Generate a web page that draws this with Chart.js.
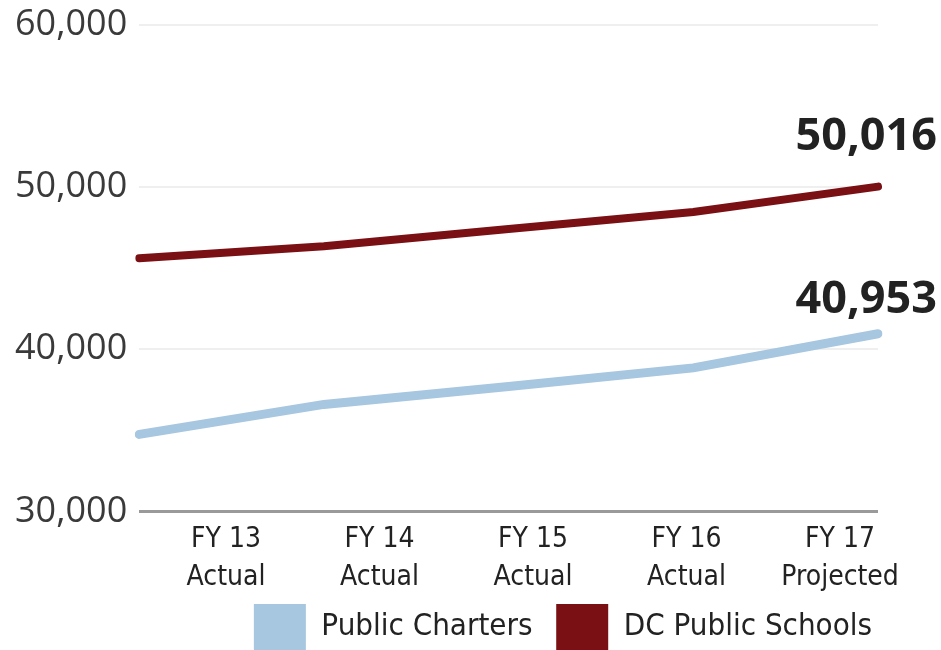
<!DOCTYPE html>
<html>
<head>
<meta charset="utf-8">
<script src="https://cdn.jsdelivr.net/npm/chart.js@4.4.0/dist/chart.umd.min.js"></script>
<style>
  html, body { margin: 0; padding: 0; background: #fff; }
  #wrap { width: 941px; height: 650px; }
</style>
</head>
<body>
<div id="wrap"><canvas id="lineChart"></canvas></div>
<script>
const categories = ['FY 13 Actual', 'FY 14 Actual', 'FY 15 Actual', 'FY 16 Actual', 'FY 17 Projected'];
const tickLabels = [['FY 13', 'Actual'], ['FY 14', 'Actual'], ['FY 15', 'Actual'], ['FY 16', 'Actual'], ['FY 17', 'Projected']];
const publicCharters = [34750, 36600, 37700, 38850, 40953];
const dcPublicSchools = [45600, 46350, 47400, 48450, 50016];
const yTicks = [30000, 40000, 50000, 60000];

const CHARTER_BLUE = '#a7c6df';
const DCPS_RED = '#7a1014';
const NARROW = '"Liberation Sans Narrow", "DejaVu Sans Condensed", Roboto, sans-serif';

// bold total printed above the last point of each line
const endLabels = {
  id: 'endLabels',
  afterDatasetsDraw(chart, args, opts) {
    const ctx = chart.ctx;
    ctx.save();
    ctx.font = 'bold 45px "Open Sans"';
    ctx.fillStyle = '#222';
    ctx.textAlign = 'right';
    ctx.textBaseline = 'alphabetic';
    chart.data.datasets.forEach((ds, i) => {
      const meta = chart.getDatasetMeta(i);
      const last = meta.data[meta.data.length - 1];
      const value = ds.data[ds.data.length - 1];
      ctx.fillText(value.toLocaleString('en-US'), chart.width - 4, last.y - opts.offsets[i]);
    });
    ctx.restore();
  }
};

const ctx = document.getElementById('lineChart').getContext('2d');
new Chart(ctx, {
  type: 'line',
  data: {
    labels: categories,
    datasets: [{
      label: 'Public Charters',
      data: publicCharters,
      borderColor: CHARTER_BLUE,
      backgroundColor: CHARTER_BLUE,
      borderWidth: 9,
      pointRadius: 0,
      tension: 0,
      borderCapStyle: 'round'
    }, {
      label: 'DC Public Schools',
      data: dcPublicSchools,
      borderColor: DCPS_RED,
      backgroundColor: DCPS_RED,
      borderWidth: 8,
      pointRadius: 0,
      tension: 0,
      borderCapStyle: 'round'
    }]
  },
  options: {
    responsive: true,
    maintainAspectRatio: false,
    animation: false,
    layout: { padding: { top: 0, right: 63, bottom: -10, left: 3 } },
    scales: {
      x: {
        type: 'category',
        offset: false,
        display: false
      },
      xl: {
        type: 'linear',
        position: 'bottom',
        min: -0.565,
        max: 4.247,
        grid: { display: false },
        border: { display: false },
        ticks: {
          stepSize: 1,
          includeBounds: false,
          autoSkip: false,
          maxRotation: 0,
          padding: 2,
          color: '#222',
          font: { family: NARROW, size: 28, lineHeight: 1.33 },
          callback: v => tickLabels[v] || ''
        }
      },
      y: {
        min: 30000,
        max: 60000,
        afterBuildTicks: axis => { axis.ticks = yTicks.map(v => ({ value: v })); },
        grid: {
          drawTicks: false,
          lineWidth: c => c.tick && c.tick.value === 30000 ? 3 : 2,
          color: c => c.tick && c.tick.value === 30000 ? '#9a9a9a' : '#efefef'
        },
        border: { display: false },
        ticks: {
          padding: 12,
          color: '#3a3a3a',
          font: { family: '"Open Sans"', size: 36, lineHeight: 0.7 },
          callback: v => v.toLocaleString('en-US')
        }
      }
    },
    plugins: {
      legend: {
        position: 'bottom',
        align: 'end',
        labels: {
          boxWidth: 52,
          boxHeight: 46,
          padding: 6,
          color: '#222',
          font: { family: NARROW, size: 31 },
          // plain filled boxes, a little extra room after the first entry
          generateLabels: chart => Chart.defaults.plugins.legend.labels.generateLabels(chart)
            .map((item, i) => ({ ...item, lineWidth: 0, text: i === 0 ? item.text + '  ' : item.text }))
        }
      },
      tooltip: { enabled: false },
      endLabels: { offsets: [21, 37] }
    }
  },
  plugins: [endLabels]
});
</script>
</body>
</html>
